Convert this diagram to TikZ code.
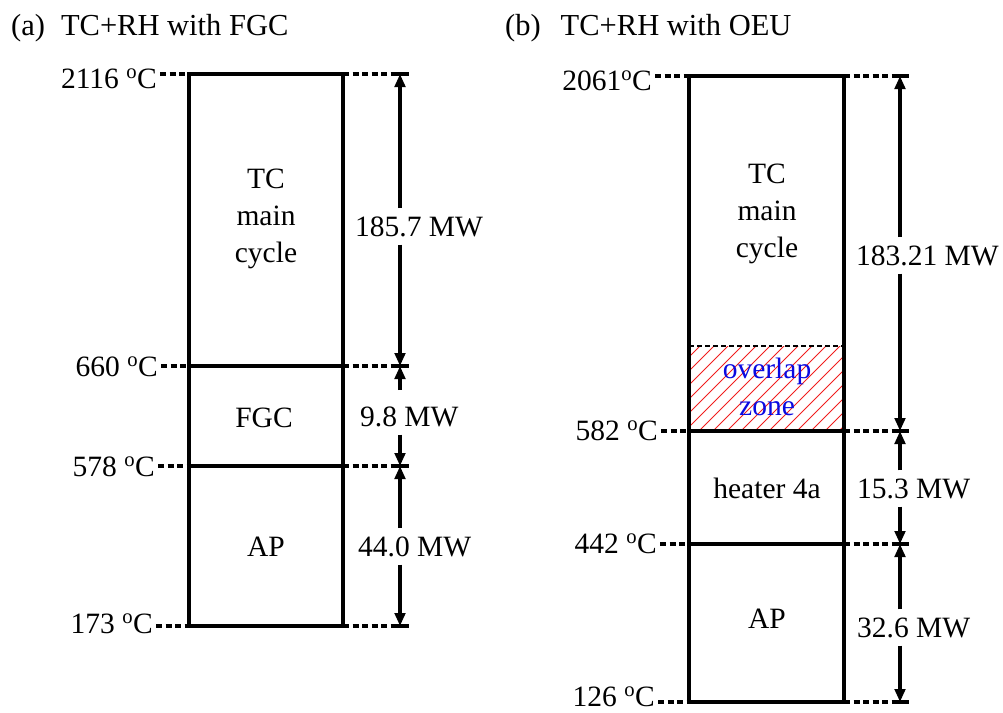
\documentclass[tikz,border=0pt]{standalone}
\usepackage{fontspec}
\setmainfont{Liberation Serif}
\usetikzlibrary{arrows.meta}
\definecolor{ozblue}{RGB}{10,10,225}
\definecolor{hatchred}{RGB}{240,30,30}
\begin{document}
\begin{tikzpicture}[x=1pt,y=-1pt,
  lbl/.style={font=\fontsize{29.5}{37}\selectfont, inner sep=0pt},
  ttl/.style={font=\fontsize{30.5}{36}\selectfont, inner sep=0pt, anchor=base west},
  temp/.style={lbl, anchor=base east},
  mw/.style={lbl, anchor=base west, inner ysep=8pt},
  boxline/.style={line width=3.2pt},
  ext/.style={line width=3.2pt, dash pattern=on 6pt off 3.5pt},
  tickline/.style={line width=3.2pt},
  thindash/.style={line width=2.2pt, dash pattern=on 5pt off 3pt},
  dim/.style={line width=3.2pt, -{Triangle[length=13pt,width=10.5pt]}},
  hatch/.style={hatchred, line width=1pt}
]
\useasboundingbox (0,0) rectangle (1003,712);

% titles
\node[ttl] (ta) at (11,35) {(a)\hspace{16pt}TC+RH with FGC};
\node[ttl] (tb) at (505,35) {(b)\hspace{20pt}TC+RH with OEU};

% ---------------- panel (a) ----------------
\coordinate (a0L) at (189,74);  \coordinate (a0R) at (343,74);  \coordinate (a0T) at (400,74);
\coordinate (a1L) at (189,366); \coordinate (a1R) at (343,366); \coordinate (a1T) at (400,366);
\coordinate (a2L) at (189,466); \coordinate (a2R) at (343,466); \coordinate (a2T) at (400,466);
\coordinate (a3L) at (189,626); \coordinate (a3R) at (343,626); \coordinate (a3T) at (400,626);

\draw[boxline] (a0L) rectangle (a3R);
\draw[boxline] (a1L) -- (a1R);
\draw[boxline] (a2L) -- (a2R);

\node[temp] (ka0) at (157,88)  {2116 \textsuperscript{o}C};
\node[temp] (ka1) at (158,376) {660 \textsuperscript{o}C};
\node[temp] (ka2) at (155,476) {578 \textsuperscript{o}C};
\node[temp] (ka3) at (153,633) {173 \textsuperscript{o}C};

\foreach \k/\c in {ka0/a0, ka1/a1, ka2/a2, ka3/a3}{
  \draw[ext] ([xshift=3pt]\k.east |- \c L) -- (\c L);
  \draw[ext] (\c R) -- ([xshift=-8pt]\c T);
  \draw[tickline] ([xshift=-8pt]\c T) -- ([xshift=9pt]\c T);
}

\node[lbl, align=center] (ca) at (266,219) {TC\\main\\cycle};
\node[lbl, anchor=base] (fa) at (264,427) {FGC};
\node[lbl, anchor=base] (pa) at (266,556) {AP};

\node[mw] (m1) at (355,236) {185.7 MW};
\node[mw] (m2) at (360,426) {9.8 MW};
\node[mw] (m3) at (358,556) {44.0 MW};

\draw[dim] (m1.north -| a0T) -- (a0T);
\draw[dim] (m1.south -| a0T) -- (a1T);
\draw[dim] ([yshift=8pt]m2.north -| a1T) -- (a1T);
\draw[dim] (m2.south -| a1T) -- (a2T);
\draw[dim] (m3.north -| a2T) -- (a2T);
\draw[dim] (m3.south -| a2T) -- (a3T);

% ---------------- panel (b) ----------------
\coordinate (b0L) at (689,76);  \coordinate (b0R) at (844,76);  \coordinate (b0T) at (900,76);
\coordinate (bzL) at (689,346); \coordinate (bzR) at (844,346);
\coordinate (b1L) at (689,431); \coordinate (b1R) at (844,431); \coordinate (b1T) at (900,431);
\coordinate (b2L) at (689,544); \coordinate (b2R) at (844,544); \coordinate (b2T) at (900,544);
\coordinate (b3L) at (689,702); \coordinate (b3R) at (844,702); \coordinate (b3T) at (900,702);

% overlap hatch
\begin{scope}
  \clip (bzL) rectangle (b1R);
  \foreach \i in {-90,-76,...,170}{
    \draw[hatch] (689+\i,433) -- (689+\i+90,343);
  }
\end{scope}

\draw[boxline] (b0L) rectangle (b3R);
\draw[thindash] (bzL) -- (bzR);
\draw[boxline] (b1L) -- (b1R);
\draw[boxline] (b2L) -- (b2R);

\node[temp] (kb0) at (652,90)  {2061\textsuperscript{o}C};
\node[temp] (kb1) at (658,440) {582 \textsuperscript{o}C};
\node[temp] (kb2) at (657,553) {442 \textsuperscript{o}C};
\node[temp] (kb3) at (655,706) {126 \textsuperscript{o}C};

\foreach \k/\c in {kb0/b0, kb1/b1, kb2/b2, kb3/b3}{
  \draw[ext] ([xshift=3pt]\k.east |- \c L) -- (\c L);
  \draw[ext] (\c R) -- ([xshift=-8pt]\c T);
  \draw[tickline] ([xshift=-8pt]\c T) -- ([xshift=9pt]\c T);
}

\node[lbl, align=center] (cb) at (767,214) {TC\\main\\cycle};
\node[lbl, align=center, text=ozblue] (oz) at (767,387) {overlap\\zone};
\node[lbl, anchor=base] (hb) at (767,498) {heater 4a};
\node[lbl, anchor=base] (pb) at (767,628) {AP};

\node[mw] (n1) at (856,265) {183.21 MW};
\node[mw] (n2) at (857,498) {15.3 MW};
\node[mw] (n3) at (857,637) {32.6 MW};

\draw[dim] (n1.north -| b0T) -- (b0T);
\draw[dim] (n1.south -| b0T) -- (b1T);
\draw[dim] (n2.north -| b1T) -- (b1T);
\draw[dim] (n2.south -| b1T) -- (b2T);
\draw[dim] (n3.north -| b2T) -- (b2T);
\draw[dim] (n3.south -| b2T) -- (b3T);
\end{tikzpicture}
\end{document}
